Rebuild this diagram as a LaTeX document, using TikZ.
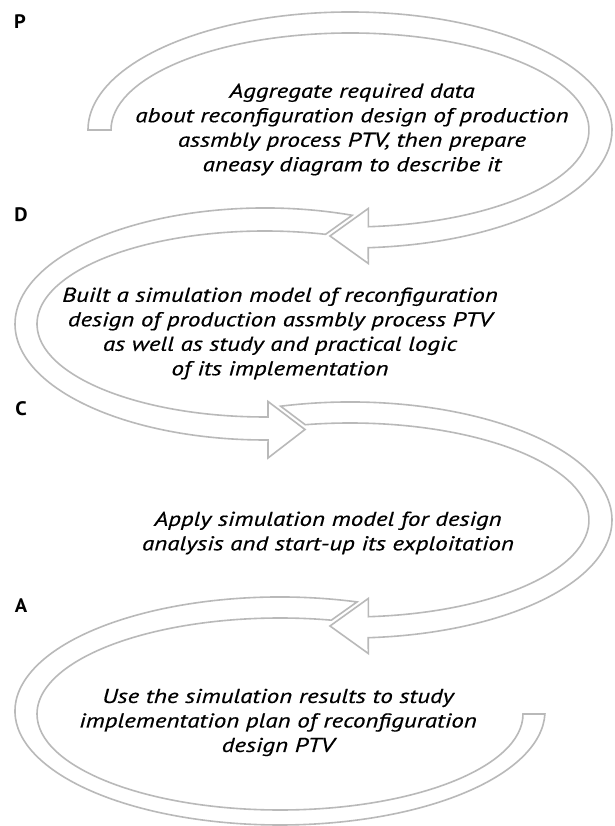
\documentclass[tikz,border=0pt]{standalone}
\usepackage{fontspec}
\setmainfont{PT Sans}
\newfontfamily\txtfont[FakeStretch=1.25,FakeBold=0.5]{PT Sans}
\newfontfamily\lblfont[FakeStretch=1.05]{PT Sans}
\usetikzlibrary{calc}
\definecolor{bandgray}{RGB}{185,185,185}
\begin{document}
\begin{tikzpicture}[x=1pt,y=1pt,
  band/.style={draw=bandgray, line width=1.6pt, fill=white, line join=miter},
  txt/.style={font=\txtfont\fontsize{20}{24.5}\selectfont\itshape, align=center, inner sep=0pt},
  lbl/.style={font=\lblfont\fontsize{19.5}{21}\selectfont\bfseries, inner sep=0pt}]
\useasboundingbox (0,0) rectangle (614,826);
\fill[white] (0,0) rectangle (614,826);
% P arrow
\coordinate (cP) at (350,696);
\draw[band] ($(cP)+(180:262pt and 118pt)$)
  arc[start angle=180,end angle=-86,x radius=262pt,y radius=118pt]
  -- (368.3,562.5) -- (330,590) -- (368.3,617.5)
  -- ($(cP)+(-85.6:239pt and 97pt)$)
  arc[start angle=-85.6,end angle=180,x radius=239pt,y radius=97pt]
  -- cycle;
% D arrow
\coordinate (cD) at (265,502);
\draw[band] ($(cD)+(69.6:250pt and 116pt)$)
  arc[start angle=69.6,end angle=270.7,x radius=250pt,y radius=116pt]
  -- (268,368) -- (305,396.5) -- (268,424.5)
  -- ($(cD)+(270.75:228pt and 93pt)$)
  arc[start angle=270.75,end angle=74.6,x radius=228pt,y radius=93pt]
  -- cycle;
% C arrow
\coordinate (cC) at (350,306);
\draw[band] ($(cC)+(105.35:262pt and 118pt)$)
  arc[start angle=105.35,end angle=-86,x radius=262pt,y radius=118pt]
  -- (368.3,172.5) -- (330,200) -- (368.3,227.5)
  -- ($(cC)+(-85.6:239pt and 97pt)$)
  arc[start angle=-85.6,end angle=100.8,x radius=239pt,y radius=97pt]
  -- cycle;
% A arrow
\coordinate (cAo) at (280,115);
\coordinate (cAi) at (280,112);
\draw[band] ($(cAo)+(73.1:265pt and 114pt)$)
  arc[start angle=73.1,end angle=358.5,x radius=265pt,y radius=114pt]
  -- ($(cAi)+(0:243pt and 96pt)$)
  arc[start angle=360,end angle=77.8,x radius=243pt,y radius=96pt]
  -- cycle;
% texts
\node[txt] (tP) at (352,696.5) {Aggregate required data\\about reconfiguration design of production\\assmbly process PTV, then prepare\\aneasy diagram to describe it};
\node[txt] (tD) at (280,492.5) {Built a simulation model of reconfiguration\\design of production assmbly process PTV\\as well as study and practical logic\\of its implementation};
\node[txt] (tC) at (328,293) {Apply simulation model for design\\analysis and start-up its exploitation};
\node[txt] (tA) at (278,103.5) {Use the simulation results to study\\implementation plan of reconfiguration\\design PTV};
% labels
\node[lbl] (lP) at (20,804) {P};
\node[lbl] (lD) at (21,611) {D};
\node[lbl] (lC) at (21,417) {C};
\node[lbl] (lA) at (21,220) {A};
\end{tikzpicture}
\end{document}
